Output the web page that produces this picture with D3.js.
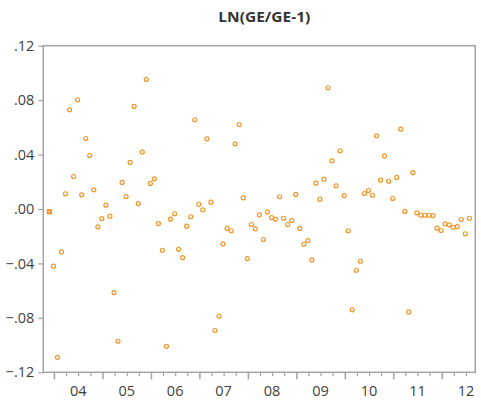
<!DOCTYPE html>
<html>
<head>
<meta charset="utf-8">
<script src="https://cdn.jsdelivr.net/npm/d3@7"></script>
<style>
  body { margin: 0; background: #fff; }
  svg { display: block; font-family: "Open Sans", sans-serif; }
</style>
</head>
<body>
<svg id="chart" width="481" height="401"></svg>
<script>
// Data: monthly log change, first obs 2003M12 (drawn as square), then 2004M01 .. 2012M08
const startYear = 2003, startMonth = 12;
const values = [
  -0.002, -0.042, -0.109, -0.0315, 0.0112, 0.0729, 0.0239, 0.0803, 0.0104, 0.0518,
  0.0393, 0.0141, -0.0131, -0.0070, 0.0028, -0.0053, -0.0614, -0.0972, 0.0195, 0.0092,
  0.0342, 0.0754, 0.0040, 0.0418, 0.0952, 0.0188, 0.0222, -0.0107, -0.0303, -0.1009,
  -0.0075, -0.0035, -0.0296, -0.0357, -0.0126, -0.0057, 0.0656, 0.0035, -0.0006, 0.0516,
  0.0050, -0.0893, -0.0788, -0.0256, -0.0143, -0.0160, 0.0479, 0.0621, 0.0082, -0.0364,
  -0.0114, -0.0146, -0.0043, -0.0224, -0.0021, -0.0063, -0.0075, 0.0090, -0.0068, -0.0114,
  -0.0085, 0.0107, -0.0143, -0.0259, -0.0232, -0.0374, 0.0190, 0.0072, 0.0219, 0.0891,
  0.0354, 0.0171, 0.0428, 0.0099, -0.0160, -0.0741, -0.0450, -0.0384, 0.0114, 0.0136,
  0.0101, 0.0538, 0.0212, 0.0391, 0.0204, 0.0077, 0.0232, 0.0587, -0.0018, -0.0756,
  0.0268, -0.0028, -0.0046, -0.0046, -0.0046, -0.0048, -0.0141, -0.0158, -0.0109, -0.0116,
  -0.0134, -0.0129, -0.0077, -0.0182, -0.0068
];
const years = [2004, 2005, 2006, 2007, 2008, 2009, 2010, 2011, 2012];
const yTicks = [0.12, 0.08, 0.04, 0.00, -0.04, -0.08, -0.12];

const points = values.map((v, i) => {
  const m = startMonth - 1 + i; // months since Jan of startYear
  return {t: startYear + m / 12, v: v, first: i === 0};
});

const svg = d3.select("#chart");
const plotL = 43.3, plotR = 475.3, plotT = 45.7, plotB = 372.3;
const frameColor = "#a3a3a3", textColor = "#3f3f3f", markColor = "#f39426";

const x = d3.scaleLinear().domain([2003.779, 2012.693]).range([plotL, plotR]);
const y = d3.scaleLinear().domain([-0.12, 0.12]).range([plotB, plotT]);

// title
svg.append("text")
  .attr("x", 264.3).attr("y", 21.5)
  .attr("text-anchor", "middle")
  .attr("font-size", 13.5).attr("font-weight", "bold")
  .attr("textLength", 92).attr("lengthAdjust", "spacingAndGlyphs")
  .attr("fill", "#333")
  .text("LN(GE/GE-1)");

// frame
svg.append("rect")
  .attr("x", plotL).attr("y", plotT)
  .attr("width", plotR - plotL).attr("height", plotB - plotT)
  .attr("fill", "none").attr("stroke", frameColor).attr("stroke-width", 1.5);

// y axis
const fmt = d => (d === 0 ? ".00" : d3.format(".2f")(d).replace("0.", "."));
const yAxis = svg.append("g")
  .attr("transform", `translate(${plotL},0)`)
  .call(d3.axisLeft(y).tickValues(yTicks).tickSize(5).tickPadding(4).tickFormat(fmt));
yAxis.select(".domain").remove();
yAxis.selectAll("line").attr("stroke", frameColor).attr("stroke-width", 1.2);
yAxis.selectAll("text").attr("font-size", 14.5).attr("fill", textColor)
  .attr("font-family", "Open Sans, sans-serif");

// x axis: major ticks at years, minor at quarters, labels mid-year
const quarters = [2003.75];
years.forEach(yr => [0.25, 0.5, 0.75].forEach(q => quarters.push(yr + q)));
const xg = svg.append("g").attr("transform", `translate(0,${plotB})`);
xg.append("g")
  .call(d3.axisBottom(x).tickValues(quarters.filter(q => q > x.domain()[0] && q < x.domain()[1])).tickSize(4).tickFormat(""))
  .call(g => g.select(".domain").remove())
  .selectAll("line").attr("stroke", frameColor).attr("stroke-width", 1.2);
xg.append("g")
  .call(d3.axisBottom(x).tickValues(years).tickSize(7).tickFormat(""))
  .call(g => g.select(".domain").remove())
  .selectAll("line").attr("stroke", frameColor).attr("stroke-width", 1.5);
xg.selectAll(".yearLabel")
  .data(years)
  .enter().append("text")
  .attr("class", "yearLabel")
  .attr("x", d => x(d + 0.5))
  .attr("y", 24)
  .attr("text-anchor", "middle")
  .attr("font-size", 14.5).attr("fill", textColor)
  .text(d => String(d).slice(2));

// points
svg.append("g").selectAll("circle")
  .data(points.filter(p => !p.first))
  .enter().append("circle")
  .attr("cx", d => x(d.t) - 0.6)
  .attr("cy", d => y(d.v))
  .attr("r", 2)
  .attr("fill", "none")
  .attr("stroke", markColor)
  .attr("stroke-width", 1.2);

const firstPt = points.filter(p => p.first);
svg.append("g").selectAll("rect")
  .data(firstPt)
  .enter().append("rect")
  .attr("x", d => x(d.t) - 0.6 - 2.6)
  .attr("y", d => y(d.v) - 2.6)
  .attr("width", 5.2).attr("height", 5.2)
  .attr("fill", markColor);
svg.append("g").selectAll("circle")
  .data(firstPt)
  .enter().append("circle")
  .attr("cx", d => x(d.t) - 0.6)
  .attr("cy", d => y(d.v))
  .attr("r", 0.8)
  .attr("fill", "#fff");
</script>
</body>
</html>
